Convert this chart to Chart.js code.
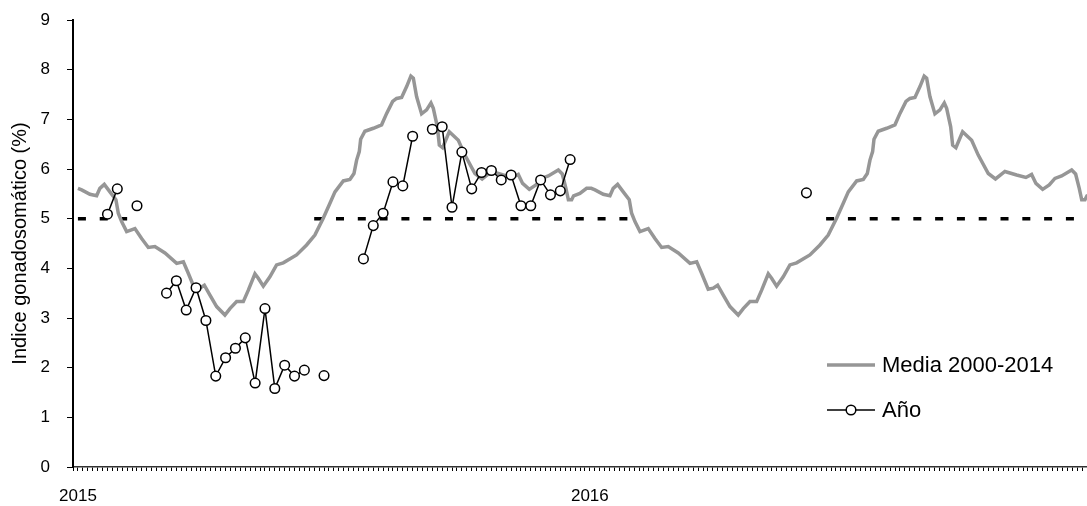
<!DOCTYPE html>
<html>
<head>
<meta charset="utf-8">
<script src="https://cdn.jsdelivr.net/npm/chart.js@4.4.1/dist/chart.umd.min.js"></script>
<style>
  html, body { margin: 0; padding: 0; background: #fff; overflow: hidden; }
  #wrap { width: 1087px; height: 506px; }
</style>
</head>
<body>
<div id="wrap"><canvas id="chart"></canvas></div>
<script>
// x is counted in weeks from the start of 2015
const yearLabels = ['2015', '2016'];
const yearTickWeek = [0, 52];
const cycleWeeks = 365 / 7;

// Media 2000-2014: one annual cycle (week of year, %), drawn for both years
const meanWeek = [0, 0.38, 1.22, 1.9, 2.23, 2.68, 3.25, 3.86, 4.1, 4.44, 4.95, 5.79, 6.47, 7.15, 7.82,
  8.84, 10.03, 10.71, 11.21, 11.88, 12.39, 12.84, 13.41, 14.09, 14.93, 15.44, 16.12, 16.8, 17.31,
  17.98, 18.32, 18.83, 19.5, 20.18, 20.86, 22.21, 23.23, 24.07, 24.92, 25.6, 26.11, 26.96, 27.63,
  28.04, 28.31, 28.58, 28.72, 29.15, 30.01, 30.85, 31.36, 31.97, 32.37, 32.88, 33.39, 33.82, 34.07,
  34.4, 34.91, 35.42, 35.86, 36.1, 36.51, 36.71, 37.04, 37.72, 38.64, 39.31, 40.33, 41.06, 42.02,
  43.21, 44.15, 44.73, 45.17, 45.85, 46.52, 47.1, 47.78, 48.8, 49.2, 49.57, 49.82, 50.15, 50.35,
  50.99, 51.67];
const meanValue = [5.61, 5.58, 5.49, 5.46, 5.61, 5.69, 5.54, 5.38, 5.11, 4.94, 4.74, 4.80, 4.60, 4.42, 4.44,
  4.31, 4.10, 4.13, 3.90, 3.58, 3.60, 3.66, 3.46, 3.23, 3.06, 3.19, 3.33, 3.33, 3.56,
  3.89, 3.80, 3.64, 3.83, 4.07, 4.11, 4.27, 4.47, 4.67, 5.01, 5.31, 5.54, 5.76, 5.79,
  5.91, 6.18, 6.35, 6.60, 6.76, 6.82, 6.89, 7.12, 7.36, 7.42, 7.44, 7.66, 7.87, 7.83,
  7.46, 7.11, 7.19, 7.33, 7.22, 6.85, 6.48, 6.43, 6.75, 6.58, 6.28, 5.91, 5.80, 5.95,
  5.88, 5.83, 5.89, 5.71, 5.59, 5.68, 5.81, 5.86, 5.98, 5.90, 5.61, 5.38, 5.38, 5.46,
  5.51, 5.61];

// Año: weekly samples, null where no sample was taken
const sampleWeek = [3, 4, 5, 6, 7, 9, 10, 11, 12, 13, 14, 15, 16, 17, 18, 19, 20, 21, 22, 23, 24, 25, 26,
  29, 30, 31, 32, 33, 34, 35, 36, 37, 38, 39, 40, 41, 42, 43, 44, 45, 46, 47, 48, 49, 50, 51, 74];
const sampleValue = [5.09, 5.60, null, 5.26, null, 3.50, 3.75, 3.16, 3.61, 2.95, 1.83, 2.20, 2.39, 2.60,
  1.69, 3.19, 1.58, 2.05, 1.83, 1.95, null, 1.84, null,
  4.19, 4.86, 5.11, 5.74, 5.66, 6.66, null, 6.80, 6.85, 5.23, 6.34, 5.60, 5.93, 5.97, 5.78, 5.88,
  5.26, 5.26, 5.78, 5.48, 5.56, 6.19, null, 5.52];

// 5 % reference level, drawn over these week ranges
const refLevel = 5;
const refStart = [0, 24, 76];
const refEnd = [5, 56, 104];

const meanPoints = [];
[0, cycleWeeks].forEach((offset) => {
  meanWeek.forEach((w, i) => meanPoints.push({ x: offset + w, y: meanValue[i] }));
});

const samplePoints = sampleWeek.map((w, i) => ({ x: w, y: sampleValue[i] }));

const refPoints = [];
refStart.forEach((s, i) => {
  refPoints.push({ x: s, y: refLevel }, { x: refEnd[i], y: refLevel }, { x: refEnd[i] + 0.5, y: null });
});

const insideLegend = {
  id: 'insideLegend',
  afterDraw(chart) {
    const { ctx } = chart;
    const rows = [
      { ds: chart.data.datasets[1], y: 365 },
      { ds: chart.data.datasets[0], y: 410 },
    ];
    ctx.save();
    rows.forEach(({ ds, y }) => {
      ctx.beginPath();
      ctx.strokeStyle = ds.borderColor;
      ctx.lineWidth = ds.borderWidth;
      ctx.moveTo(827, y);
      ctx.lineTo(875, y);
      ctx.stroke();
      if (ds.pointRadius) {
        ctx.beginPath();
        ctx.arc(851, y, ds.pointRadius, 0, Math.PI * 2);
        ctx.fillStyle = ds.pointBackgroundColor;
        ctx.fill();
        ctx.lineWidth = ds.pointBorderWidth;
        ctx.strokeStyle = ds.pointBorderColor;
        ctx.stroke();
      }
      ctx.fillStyle = '#000';
      ctx.font = '22px "Liberation Sans", Arial, sans-serif';
      ctx.textBaseline = 'middle';
      ctx.fillText(ds.label, 882, y + 1);
    });
    ctx.restore();
  },
};

Chart.defaults.font.family = '"Liberation Sans", Arial, sans-serif';
Chart.defaults.color = '#000';

new Chart(document.getElementById('chart'), {
  type: 'line',
  data: {
    datasets: [
      {
        label: 'Año',
        data: samplePoints,
        borderColor: '#000',
        borderWidth: 1.5,
        pointRadius: 4.8,
        pointBackgroundColor: '#fff',
        pointBorderColor: '#000',
        pointBorderWidth: 1.5,
        spanGaps: false,
      },
      {
        label: 'Media 2000-2014',
        data: meanPoints,
        borderColor: '#969696',
        borderWidth: 3.5,
        pointRadius: 0,
        tension: 0,
      },
      {
        label: 'ref',
        data: refPoints,
        borderColor: '#000',
        borderWidth: 3.5,
        borderDash: [8, 13.8],
        pointRadius: 0,
        spanGaps: false,
      },
    ],
  },
  options: {
    responsive: true,
    maintainAspectRatio: false,
    animation: false,
    layout: { autoPadding: false, padding: { top: 20, left: 0, right: 0, bottom: 0 } },
    plugins: {
      legend: { display: false },
      tooltip: { enabled: false },
    },
    scales: {
      x: {
        type: 'linear',
        min: -0.5,
        max: 102.5,
        ticks: {
          stepSize: 0.5,
          autoSkip: false,
          maxRotation: 0,
          minRotation: 0,
          padding: 15,
          font: { size: 17 },
          callback: (v) => {
            const i = yearTickWeek.findIndex((w) => Math.abs(w - v) < 0.01);
            return i >= 0 ? yearLabels[i] : '';
          },
        },
        grid: { drawOnChartArea: false, tickLength: 4, color: '#000', lineWidth: 1 },
        border: { color: '#333', width: 1.5 },
        afterFit: (s) => {
          s.height = 39;
          s.paddingLeft = 0;
          s.paddingRight = 0;
        },
      },
      y: {
        min: 0,
        max: 9,
        ticks: { stepSize: 1, padding: 17, font: { size: 17 } },
        grid: { drawOnChartArea: false, tickLength: 6, color: '#000', lineWidth: 1 },
        border: { color: '#000', width: 2 },
        title: {
          display: true,
          text: 'Indice gonadosomático (%)',
          font: { size: 20 },
          padding: { top: 8, bottom: 0 },
        },
        afterFit: (s) => {
          s.width = 73;
          s.paddingTop = 0;
          s.paddingBottom = 0;
        },
      },
    },
  },
  plugins: [insideLegend],
});
</script>
</body>
</html>
